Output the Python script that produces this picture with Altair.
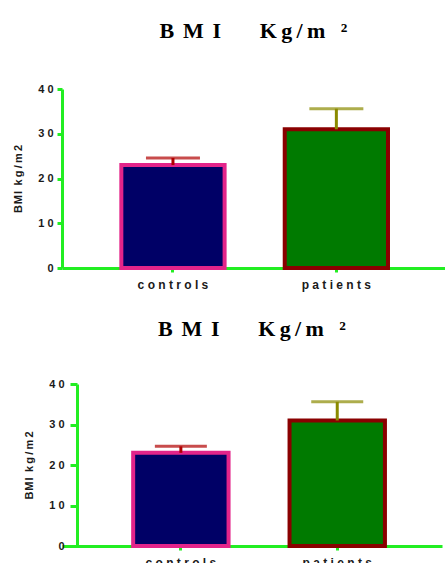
import altair as alt
import pandas as pd

# Group means of body-mass index with the upper error bar length
groups = ["controls", "patients"]
bmi_mean = [23.0, 31.0]
bmi_err = [1.6, 4.6]
y_ticks = [0, 10, 20, 30, 40]

fill_colors = ["#000066", "#007a00"]
edge_colors = ["#e3248a", "#8a0000"]
err_colors = ["#b00000", "#8a8a00"]
GREEN = "#22ee22"
INK = "#1a1a1a"

df = pd.DataFrame({"group": groups, "mean": bmi_mean, "err": bmi_err})

TITLE = "B\u2009\u2009M\u2009\u2009I\u2003\u2002\u00a0K\u2009g\u2009/\u2009m\u00a0\u00a0\u2009\u00b2"
YTITLE = "B\u200aM\u200aI\u2002k\u2009g\u2009/\u2009m\u20092"
SPACED = "join(split(datum.label, ''), '\u00a0')"


def panel(width, height, pad_inner, pad_outer, band_align, cap_len,
          y_offset, y_tick, y_label_pad, title_offset):
    base = alt.Chart(df).transform_calculate(upper="datum.mean + datum.err")

    x_enc = alt.X(
        "group:N", sort=groups, title=None,
        scale=alt.Scale(paddingInner=pad_inner, paddingOuter=pad_outer,
                        align=band_align),
        axis=alt.Axis(labelAngle=0, labelExpr=SPACED, tickSize=4,
                      labelPadding=7, labelFontSize=12),
    )
    y_enc = alt.Y(
        "mean:Q",
        scale=alt.Scale(domain=[0, 40], nice=False),
        axis=alt.Axis(values=y_ticks, title=YTITLE, offset=y_offset,
                      tickSize=y_tick, labelPadding=y_label_pad,
                      labelExpr=SPACED, titlePadding=14),
    )
    err_color = alt.Color("group:N", legend=None,
                          scale=alt.Scale(domain=groups, range=err_colors))

    bars = base.mark_bar(strokeWidth=4).encode(
        x=x_enc,
        y=y_enc,
        fill=alt.Fill("group:N", legend=None,
                      scale=alt.Scale(domain=groups, range=fill_colors)),
        stroke=alt.Stroke("group:N", legend=None,
                          scale=alt.Scale(domain=groups, range=edge_colors)),
    )
    stem = base.mark_rule(strokeWidth=3).encode(
        x=alt.X("group:N", sort=groups),
        y="mean:Q",
        y2="upper:Q",
        color=err_color,
    )
    cap = base.mark_tick(size=cap_len, thickness=3).encode(
        x=alt.X("group:N", sort=groups),
        y="upper:Q",
        color=err_color,
    )
    return alt.layer(bars, stem, cap).properties(
        width=width,
        height=height,
        title=alt.TitleParams(TITLE, offset=title_offset),
    )


top = panel(383, 179, 0.368, 0.356, 0.51, 54, 0, 5, 4, 40)
bottom = panel(380, 162, 0.39, 0.41, 0.555, 52, -15, 7, 6, 37)

chart = (
    alt.vconcat(top, bottom, spacing=28)
    .properties(padding={"left": 12, "top": 20, "right": 0, "bottom": 0},
                background="white")
    .configure_view(stroke=None)
    .configure_axis(
        domainColor=GREEN, domainWidth=3, tickColor=GREEN, tickWidth=3,
        grid=False, labelColor=INK, labelFont="Liberation Sans",
        labelFontWeight="bold", labelFontSize=11,
        titleColor=INK, titleFont="Liberation Sans", titleFontWeight="bold",
        titleFontSize=11, zindex=1,
    )
    .configure_title(
        font="Liberation Serif", fontSize=22, fontWeight="bold",
        color="black", anchor="middle",
    )
)

chart.save("out.html", embed_options={"renderer": "svg", "actions": False})
